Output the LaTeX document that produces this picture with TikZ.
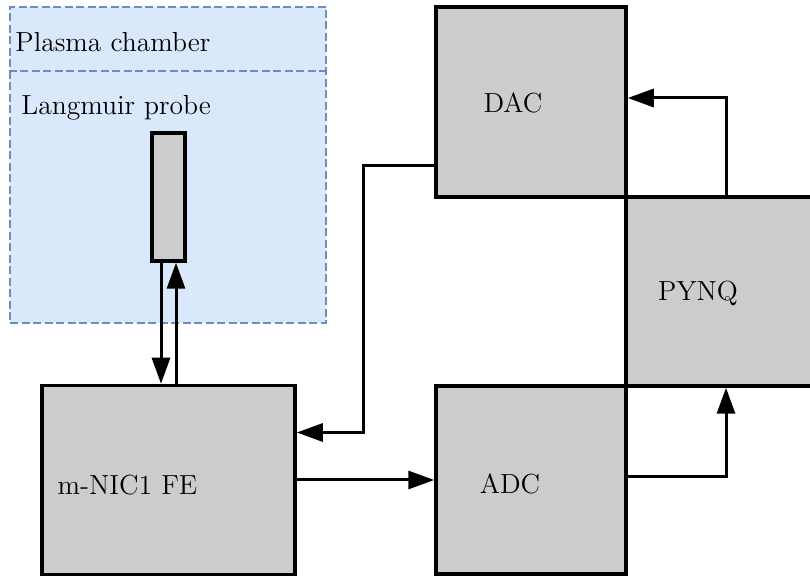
\documentclass[tikz,border=0pt]{standalone}
\usetikzlibrary{arrows.meta, positioning}
\definecolor{blockgray}{HTML}{CCCCCC}
\definecolor{chamberfill}{HTML}{DAE8FC}
\definecolor{chamberline}{HTML}{6C8EBF}

\begin{document}
\begin{tikzpicture}[
    x=0.5pt, y=-0.5pt,
    font=\fontsize{13.8}{16}\selectfont,
    block/.style={draw, line width=1.75pt, fill=blockgray, inner sep=0pt},
    wall/.style={draw=chamberline, line width=1.1pt, dash pattern=on 4pt off 1.75pt},
    chamber/.style={wall, fill=chamberfill},
    txt/.style={inner sep=0pt, anchor=base west},
    arrow/.style={-{Triangle[length=13pt, width=9pt]}, line width=1.5pt}
]
    \useasboundingbox (0,0) rectangle (810,577);
    \node[chamber, minimum width=158pt, minimum height=158pt] (chamber) at (168,165) {};
    \draw[wall] (chamber.west |- 0,71) -- (chamber.east |- 0,71);
    \node[txt] (chamber-t) at (15,52) {Plasma chamber};
    \node[txt] (langmuir-t) at (21,115) {Langmuir probe};
    \node[block, minimum width=16.5pt, minimum height=64pt] (probe) at (168.5,197) {};
    \node[block, minimum width=126.5pt, minimum height=94.5pt,
          label={[name=nic-t, xshift=-20.5pt, yshift=-2.75pt]center:m-NIC1 FE}] (nic) at (168.5,480) {};
    \node[block, minimum width=95pt, minimum height=95pt,
          label={[name=dac-t, xshift=-9pt, yshift=-0.5pt]center:DAC}] (dac) at (531,102) {};
    \node[block, minimum width=95pt, minimum height=94pt,
          label={[name=adc-t, xshift=-10.5pt, yshift=-2pt]center:ADC}] (adc) at (531,480) {};
    \node[block, minimum width=100pt, minimum height=94.5pt,
          label={[name=pynq-t, xshift=-14pt, yshift=-0.75pt]center:PYNQ}] (pynq) at (726,291.5) {};

    \draw[arrow] ([xshift=-3.75pt]probe.south) -- ([xshift=-3.75pt]nic.north);
    \draw[arrow] ([xshift=3.75pt]nic.north) -- ([xshift=3.75pt]probe.south);
    \draw[arrow] ([yshift=-32pt]dac.west) -- ++(-71,0) |- ([yshift=23.75pt]nic.east);
    \draw[arrow] (nic.east) -- (adc.west);
    \draw[arrow] ([yshift=1.5pt]adc.east) -| (pynq.south);
    \draw[arrow] (pynq.north) |- ([yshift=2pt]dac.east);
\end{tikzpicture}
\end{document}
